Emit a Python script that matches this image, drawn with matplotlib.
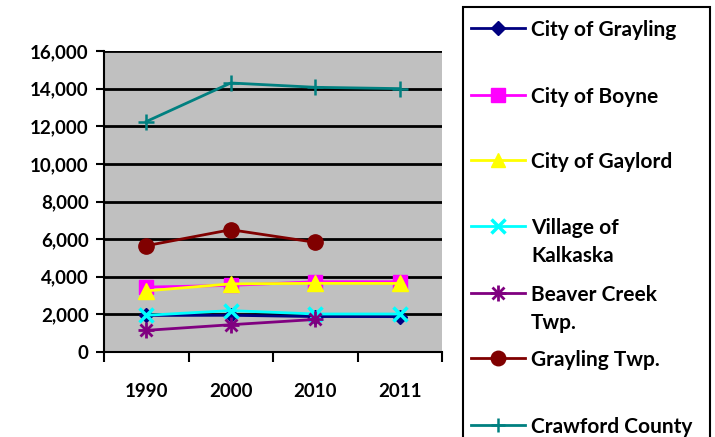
import matplotlib
matplotlib.use("Agg")
import matplotlib.pyplot as plt
from matplotlib.lines import Line2D
from matplotlib.patches import Rectangle
from matplotlib.ticker import FuncFormatter

years = ["1990", "2000", "2010", "2011"]
labels = ["City of Grayling", "City of Boyne", "City of Gaylord",
          "Village of\nKalkaska", "Beaver Creek\nTwp.", "Grayling Twp.",
          "Crawford County"]
grayling_city = [1944, 1952, 1884, 1880]
boyne = [3450, 3540, 3735, 3735]
gaylord = [3250, 3620, 3650, 3645]
kalkaska = [1952, 2200, 2020, 2020]
beaver_creek = [1150, 1450, 1730, None]
grayling_twp = [5650, 6500, 5830, None]
crawford = [12250, 14300, 14070, 14000]
series = [grayling_city, boyne, gaylord, kalkaska, beaver_creek, grayling_twp, crawford]

colors = ["#000080", "#FF00FF", "#FFFF00", "#00FFFF", "#800080", "#800000", "#008080"]
markers = ["D", "s", "^", "x", "*", "o", "+"]
msizes = [7, 10, 11, 10, 11, 11, 11]
mews = [1, 1, 1, 2.5, 1, 1, 1.8]

plt.rcParams['font.family'] = ['Lato', 'DejaVu Sans']
plt.rcParams['font.weight'] = 'bold'

fig = plt.figure(figsize=(7.15, 4.37), dpi=100)
ax = fig.add_axes([104/715, 1-352/437, (442-104)/715, (352-51)/437])
ax.set_facecolor("#C0C0C0")

x = list(range(len(years)))
for vals, c, m, ms, mw in zip(series, colors, markers, msizes, mews):
    xs = [xi for xi, v in zip(x, vals) if v is not None]
    ys = [v for v in vals if v is not None]
    if m == "*":
        ax.plot(xs, ys, color=c, lw=2, zorder=3)
        ax.plot(xs, ys, ls="none", marker="x", color=c, ms=9, mew=2, zorder=4)
        ax.plot(xs, ys, ls="none", marker="+", color=c, ms=12, mew=2, zorder=4)
    else:
        ax.plot(xs, ys, color=c, lw=2, marker=m, ms=ms, mew=mw,
                markerfacecolor=c, markeredgecolor=c, zorder=3)

ax.set_xlim(-0.5, len(years) - 0.5)
ax.set_ylim(0, 16000)
ax.set_yticks(range(0, 16001, 2000))
ax.yaxis.set_major_formatter(FuncFormatter(lambda v, p: f"{int(v):,}"))
ax.grid(axis="y", color="black", lw=2, zorder=1)
ax.set_axisbelow(True)
ax.set_xticks(x)
ax.set_xticklabels(years)
ax.set_xticks([i - 0.5 for i in range(len(years) + 1)], minor=True)
ax.tick_params(axis="x", which="major", length=0, pad=22, labelsize=13.5)
ax.tick_params(axis="x", which="minor", length=7, width=1.5, color="black")
ax.tick_params(axis="y", length=6, width=1.5, labelsize=13.5, pad=5)
for lab in ax.get_xticklabels() + ax.get_yticklabels():
    lab.set_fontweight("bold")
for s in ["top", "right"]:
    ax.spines[s].set_visible(False)
ax.spines["left"].set_linewidth(1.5)
ax.spines["bottom"].set_linewidth(1.5)

# Legend drawn manually
W, H = 715, 437
fig.patches.append(Rectangle((463/W, -0.01), (710-463)/W, (437-7)/H + 0.01,
                             transform=fig.transFigure, fill=False,
                             edgecolor="black", lw=1.5))
ycent = [28, 95, 160, 226, 293, 358, 425]
for lab, c, m, ms, mw, yc in zip(labels, colors, markers, msizes, mews, ycent):
    yf = 1 - yc / H
    fig.add_artist(Line2D([471/W, 525/W], [yf, yf], color=c, lw=2,
                          transform=fig.transFigure))
    if m == "*":
        fig.add_artist(Line2D([498/W], [yf], marker="x", ms=8, mew=2, color=c,
                              transform=fig.transFigure))
        fig.add_artist(Line2D([498/W], [yf], marker="+", ms=11, mew=2, color=c,
                              transform=fig.transFigure))
    else:
        fig.add_artist(Line2D([498/W], [yf], marker=m, ms=ms * 0.95, mew=mw,
                              color=c, markerfacecolor=c, markeredgecolor=c,
                              transform=fig.transFigure))
    for i, line in enumerate(lab.split("\n")):
        fig.text(531/W, 1 - (yc + 28 * i) / H, line, ha="left",
                 va="center_baseline", fontsize=15, fontweight="bold")

fig.savefig("out.png", dpi=100)
